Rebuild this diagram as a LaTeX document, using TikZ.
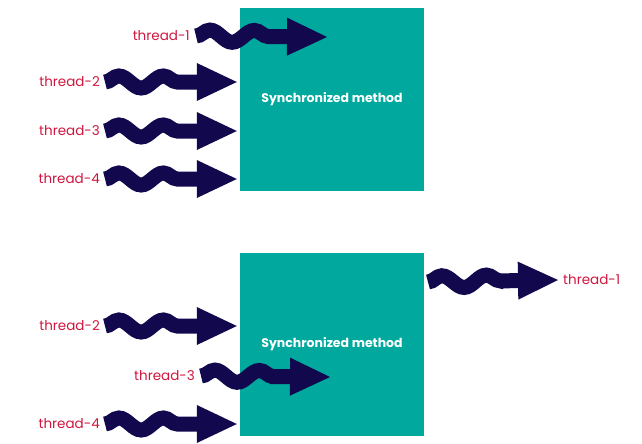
\documentclass[tikz,border=0pt]{standalone}
\usepackage{fontspec}
\setmainfont{Poppins}
\usetikzlibrary{positioning,arrows.meta,decorations.pathmorphing}
\definecolor{syncteal}{RGB}{0,168,157}
\definecolor{threadred}{RGB}{208,22,62}
\definecolor{wavenavy}{RGB}{18,8,78}

\tikzset{
  syncbox/.style={fill=syncteal, minimum width=184, minimum height=183, inner sep=0,
    text=white, font=\fontsize{12.5}{14}\selectfont\bfseries},
  tlabel/.style={text=threadred, font=\fontsize{13.5}{15}\selectfont, inner sep=0},
  wave/.style={draw=wavenavy, line width=15pt,
    -{Triangle[length=40pt,width=38pt,line width=0pt 0]},
    decorate, decoration={snake, amplitude=6pt, segment length=44.5pt, post length=40pt}}
}

\begin{document}
\begin{tikzpicture}[x=1pt,y=-1pt]
    \useasboundingbox (0,0) rectangle (642,444);

    % upper case: thread-1 holds the lock
    \node[syncbox] (sync1) at (332,99.5) {Synchronized method};
    \node[tlabel, anchor=east] (t1a) at (190,36) {thread-1};
    \node[tlabel, anchor=east] (t2a) at (100,82) {thread-2};
    \node[tlabel, anchor=east] (t3a) at (100,131) {thread-3};
    \node[tlabel, anchor=east] (t4a) at (100,179) {thread-4};
    \coordinate (in1a) at (327,37);

    \draw[wave] ([xshift=6]t1a.east) -- (in1a);
    \draw[wave] ([xshift=5]t2a.east) -- ([xshift=-3]sync1.west |- t2a);
    \draw[wave] ([xshift=5]t3a.east) -- ([xshift=-3]sync1.west |- t3a);
    \draw[wave] ([xshift=5]t4a.east) -- ([xshift=-3]sync1.west |- t4a);

    % lower case: thread-1 leaves, thread-3 enters
    \node[syncbox] (sync2) at (332,344.5) {Synchronized method};
    \node[tlabel, anchor=west] (t1b) at (563,280) {thread-1};
    \node[tlabel, anchor=east] (t2b) at (100,326) {thread-2};
    \node[tlabel, anchor=east] (t3b) at (195,376) {thread-3};
    \node[tlabel, anchor=east] (t4b) at (100,424) {thread-4};
    \coordinate (out1b) at (428,282);
    \coordinate (in3b) at (330,377);

    \draw[wave] (out1b) -- ([xshift=-5]t1b.west);
    \draw[wave] ([xshift=5]t2b.east) -- ([xshift=-3]sync2.west |- t2b);
    \draw[wave] ([xshift=6]t3b.east) -- (in3b);
    \draw[wave] ([xshift=5]t4b.east) -- ([xshift=-3]sync2.west |- t4b);
\end{tikzpicture}
\end{document}
